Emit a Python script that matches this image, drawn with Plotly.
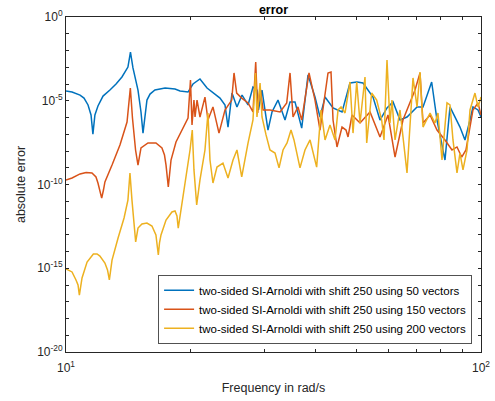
import plotly.graph_objects as go

# ---- data (frequency in rad/s, log10 of absolute error) ----
freq_50 = [10.0, 10.34, 10.81, 11.05, 11.30, 11.49, 11.61, 11.74, 11.94, 12.28, 12.76, 13.20, 13.64,
           14.10, 14.30, 14.50, 14.91, 15.16, 15.33, 15.50, 15.67, 15.94, 16.38, 17.33, 18.31, 18.83,
           19.68, 20.23, 21.03, 21.87, 23.50, 24.16, 24.57, 25.12, 25.82, 26.56,
           27.46, 28.22, 28.85, 29.10, 29.67, 30.67, 31.36, 32.42, 33.71, 34.66, 35.63, 36.98, 38.30,
           39.81, 40.93, 42.09, 44.0, 46.25, 48.34, 50.25, 51.96, 54.92, 57.10, 59.36, 61.38, 63.80,
           66.33, 70.13, 72.49, 76.05, 78.34, 81.89, 84.19, 88.99, 91.49, 94.08, 95.65, 98.35, 100.0]
logerr_50 = [-4.42, -4.48, -4.66, -4.84, -5.25, -5.85, -6.99, -5.85, -5.31, -4.72, -4.36, -4.0, -3.58,
             -2.99, -2.09, -3.04, -4.36, -5.67, -6.93, -5.73, -4.96, -4.60, -4.36, -4.24, -4.30, -4.42,
             -4.48, -4.0, -3.70, -4.24, -4.84, -5.25, -6.57, -4.54, -5.37, -4.66,
             -5.25, -4.18, -4.36, -5.55, -4.36, -6.75, -5.67, -4.96, -6.15, -5.07, -5.07, -6.63, -3.46,
             -4.78, -5.97, -4.78, -5.43, -5.67, -3.94, -3.88, -3.94, -4.78, -6.15, -5.43, -5.07, -6.15,
             -5.97, -5.37, -5.37, -3.88, -6.15, -8.54, -5.37, -6.57, -7.34, -6.15, -5.37, -5.55, -5.97]

freq_150 = [10.0, 10.34, 10.81, 11.18, 11.55, 11.81, 11.94, 12.07, 12.19, 12.31, 12.41, 12.91, 13.49,
            14.03, 14.29, 14.46, 14.71, 14.91, 15.16, 15.76, 16.47, 17.03, 17.27, 17.42, 17.51, 17.64,
            17.76, 17.91, 18.41, 19.14, 19.68, 19.95, 20.12, 20.34,
            20.46, 20.69, 21.03, 21.62, 21.98, 22.60, 23.37, 24.16, 25.08, 25.40, 25.78, 26.51, 27.46,
            28.22, 28.65, 28.97, 29.35, 29.84, 31.01, 32.80, 34.03, 34.66, 35.24, 36.22, 36.98, 38.51,
            39.81, 40.93, 42.09, 42.79, 43.51, 44.0, 44.98, 46.25, 47.29, 47.82, 48.89, 51.11, 54.03,
            57.10, 59.69, 62.07, 64.86, 69.34, 71.29, 72.49, 75.38, 78.34, 81.89, 85.13, 87.53, 89.85,
            92.0, 95.65, 98.35, 100.0]
logerr_150 = [-9.73, -9.61, -9.37, -9.28, -9.31, -9.55, -9.91, -10.33, -10.81, -10.33, -9.85, -8.84, -7.64,
              -6.27, -4.24, -6.03, -7.94, -8.84, -7.82, -7.52, -7.52, -7.82, -8.24, -8.84, -9.43, -10.15,
              -9.43, -8.54, -7.46, -6.57, -6.03, -3.76, -6.45, -4.96,
              -5.97, -4.96, -5.97, -4.78, -6.15, -5.37, -6.93, -5.55, -4.96, -3.34, -4.54, -4.84, -5.13,
              -5.67, -2.69, -5.73, -4.18, -5.55, -5.55, -5.67, -5.13, -3.34, -5.97, -5.37, -6.15, -3.34,
              -4.96, -6.75, -4.78, -3.34, -3.28, -6.15, -7.76, -6.57, -6.75, -7.16, -5.85, -6.33, -5.67,
              -7.16, -5.85, -8.36, -6.15, -4.36, -3.34, -6.33, -5.85, -6.75, -7.34, -7.94, -7.76, -8.36,
              -7.94, -5.55, -5.13, -5.85]

freq_200 = [10.0, 10.34, 10.57, 10.69, 10.77, 10.84, 10.93, 11.24, 11.64, 11.88, 12.07, 12.41, 12.59,
            12.72, 12.83, 12.91, 13.35, 13.80,
            14.10, 14.26, 14.42, 14.58, 14.72, 14.91, 15.24, 15.67, 16.11, 16.47, 16.57, 16.69, 16.80,
            16.94, 17.42,
            18.0, 18.31, 18.51, 18.64, 18.93, 19.46, 19.90, 20.15, 20.34, 20.65, 21.03, 21.62, 21.98,
            22.23, 22.60, 23.11, 23.89, 24.57, 25.26, 25.82, 26.51, 27.46, 28.22, 28.62, 28.85, 29.35,
            29.67, 30.34, 31.01, 31.89, 32.61, 33.34, 34.09, 34.85, 35.43, 36.63, 37.66, 38.73, 40.18,
            41.16, 42.09, 43.26, 44.49, 45.24, 46.0, 47.03, 48.34, 49.16, 50.18, 51.11, 52.54, 53.04,
            54.52, 56.06, 57.63, 58.38, 59.36, 60.35, 61.02, 62.07, 63.80, 66.33, 68.57, 70.13, 71.29,
            72.49, 75.38, 77.47, 78.77, 80.54, 82.81, 84.19, 85.6, 87.53, 88.99, 90.49, 92.54, 94.08,
            96.71, 98.35, 100.0]
logerr_200 = [-15.04, -15.22, -15.70, -16.0, -16.60, -16.12, -15.58, -14.63, -14.15, -14.15, -14.27, -14.69,
              -15.10, -15.70, -14.99, -14.51, -13.19, -12.0,
              -10.93, -9.31, -10.93, -12.60, -13.43, -12.60, -12.36, -12.30, -12.48, -13.01, -13.49, -14.21,
              -13.49, -13.01, -12.12,
              -11.64, -11.58, -11.88, -12.60, -11.52, -9.73, -7.94, -6.75, -9.13, -11.22,
              -9.73, -7.94, -5.73, -8.54, -9.91, -8.96, -8.72, -9.61, -8.54, -7.94, -9.55, -7.52, -6.15,
              -3.34, -5.97, -3.94, -5.97, -7.04, -7.94, -8.12, -9.01, -7.94, -7.52, -6.75, -7.34, -9.01,
              -7.94, -7.34, -8.96, -5.55, -7.34, -6.45, -7.34, -5.55, -5.37, -5.73, -3.88, -6.93, -3.88,
              -6.33, -3.58, -7.52, -4.54, -4.96, -6.15, -7.34, -2.57, -6.33, -4.96, -7.34, -5.55, -9.31,
              -3.64, -5.37, -3.28, -6.57, -5.73, -6.33, -5.73, -8.54, -5.13, -5.25, -7.34, -9.31, -8.12,
              -9.13, -7.94, -5.55, -4.54, -5.37, -4.78]

series_names = ["two-sided SI-Arnoldi with shift 250 using 50 vectors",
                "two-sided SI-Arnoldi with shift 250 using 150 vectors",
                "two-sided SI-Arnoldi with shift 250 using 200 vectors"]
series_colors = ["#0072BD", "#D95319", "#EDB120"]

y_major_exps = [-20, -15, -10, -5, 0]
y_minor_exps = [e for e in range(-20, 1) if e % 5 != 0]
x_major_vals = [10, 100]
x_major_text = ["10<sup>1</sup>", "10<sup>2</sup>"]
x_minor_vals = [20, 30, 40, 50, 60, 70, 80, 90]

# ---- figure ----
fig = go.Figure()
for fx, ly, name, col in zip([freq_50, freq_150, freq_200],
                             [logerr_50, logerr_150, logerr_200],
                             series_names, series_colors):
    fig.add_trace(go.Scatter(x=fx, y=[10 ** v for v in ly], mode="lines", name=name,
                             line=dict(color=col, width=1.5)))

font_family = "Liberation Sans, Arial, Helvetica, sans-serif"
axis_col = "#262626"

fig.update_layout(
    width=495, height=401,
    margin=dict(l=66, r=14, t=17, b=49),
    paper_bgcolor="white", plot_bgcolor="white",
    font=dict(family=font_family, size=11, color=axis_col),
    title=dict(text="<b>error</b>", x=0.5, xref="paper", xanchor="center",
               y=1 - 9.5 / 401, yref="container", yanchor="middle",
               font=dict(size=12.5, color="black")),
    showlegend=True,
    legend=dict(x=0.979, xanchor="right", y=0.024, yanchor="bottom",
                bgcolor="white", bordercolor=axis_col, borderwidth=0.8,
                font=dict(size=11.5, color="black"),
                tracegroupgap=0, itemwidth=30),
)

fig.update_xaxes(
    type="log", range=[1, 2], showgrid=False, zeroline=False,
    showline=True, linecolor=axis_col, linewidth=1, mirror="ticks",
    ticks="inside", ticklen=3, tickcolor=axis_col,
    tickmode="array", tickvals=x_major_vals, ticktext=x_major_text,
    minor=dict(tickmode="array", tickvals=x_minor_vals, ticks="inside", ticklen=3,
               tickcolor=axis_col, showgrid=False),
    tickfont=dict(size=12, color=axis_col),
    ticklabelstandoff=5,
    title=dict(text="Frequency in rad/s", font=dict(size=12.5, color=axis_col), standoff=8),
    automargin=False,
)
fig.update_yaxes(
    type="log", range=[-20, 0], showgrid=False, zeroline=False,
    showline=True, linecolor=axis_col, linewidth=1, mirror="ticks",
    ticks="inside", ticklen=3, tickcolor=axis_col,
    tickmode="array", tickvals=[10.0 ** e for e in y_major_exps],
    ticktext=["10<sup>%d</sup>" % e for e in y_major_exps],
    minor=dict(tickmode="array", tickvals=[10.0 ** e for e in y_minor_exps], ticks="inside",
               ticklen=3, tickcolor=axis_col, showgrid=False),
    tickfont=dict(size=12, color=axis_col),
    title=dict(text="absolute error", font=dict(size=12.5, color=axis_col), standoff=8),
    automargin=False,
)

fig.write_html("out.html")
